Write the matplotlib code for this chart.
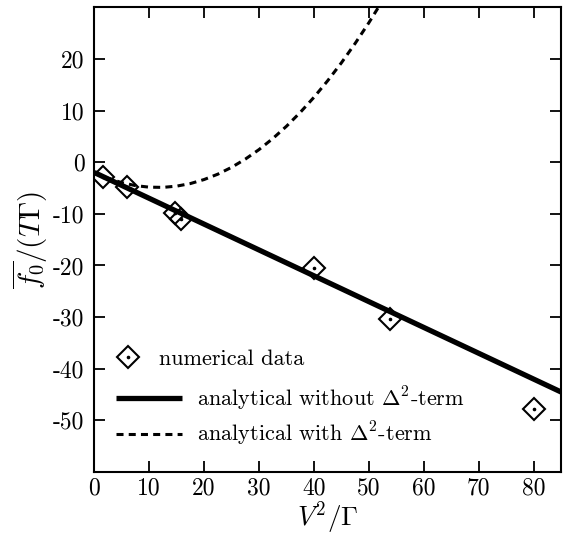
import matplotlib
matplotlib.use("Agg")
import matplotlib.pyplot as plt

plt.rcParams['font.family'] = 'serif'
plt.rcParams['font.serif'] = ['cmr10']
plt.rcParams['mathtext.fontset'] = 'cm'
plt.rcParams['axes.unicode_minus'] = False

# numerical data
num_x = [1.6, 5.9, 14.7, 15.7, 40.0, 53.8, 80.0]
num_y = [-2.9, -4.9, -9.8, -11.1, -20.4, -30.3, -47.7]

# analytical without Delta^2-term (straight line)
lin_x = [0, 85]
lin_y = [-2.0, -44.5]

# analytical with Delta^2-term
dash_x = [0, 2.5, 5, 7.5, 10, 12.5, 15, 17.5, 20, 22.5, 25, 27.5, 30,
          32.5, 35, 37.5, 40, 42.5, 45, 47.5, 50, 52.5]
dash_y = [-2.0, -3.12, -3.96, -4.54, -4.84, -4.88, -4.64, -4.14, -3.36,
          -2.32, -1.0, 0.59, 2.44, 4.57, 6.96, 9.63, 12.56, 15.77, 19.24,
          22.99, 27.0, 31.29]

fig = plt.figure(figsize=(5.63, 5.37), dpi=100)
ax = fig.add_axes([0.1675, 0.121, 0.829, 0.8655])

dl, = ax.plot(dash_x, dash_y, color='black', lw=2.2, linestyle=(0, (2.3, 1.7)))
sl, = ax.plot(lin_x, lin_y, color='black', lw=3.8, solid_capstyle='butt')
dm, = ax.plot(num_x, num_y, linestyle='none', marker='D', ms=11.5,
              mfc='none', mec='black', mew=1.5)
dt, = ax.plot(num_x, num_y, linestyle='none', marker='o', ms=1.6,
              mfc='black', mec='black')

ax.set_xlim(0, 85)
ax.set_ylim(-60, 30)
ax.set_xticks(range(0, 81, 10))
ax.set_yticks(range(-50, 21, 10))
ax.tick_params(direction='in', length=8, width=1.3, top=True, right=True,
               labelsize=17, pad=7)
ax.tick_params(axis='x', pad=4)
for s in ax.spines.values():
    s.set_linewidth(1.5)

ax.set_xlabel(r'$V^2/\Gamma$', fontsize=19.5, labelpad=0)
ax.set_ylabel(r'$\overline{f_0}/(T\Gamma)$', fontsize=21, labelpad=2)

leg1 = ax.legend([(dm, dt)], ['numerical data'],
                 loc='center left', bbox_to_anchor=(0.0465, 0.243),
                 frameon=False, fontsize=16, handlelength=1.08,
                 handletextpad=0.86, borderpad=0, borderaxespad=0)
ax.add_artist(leg1)
ax.legend([sl, dl],
          [r'analytical without $\Delta^2$-term',
           r'analytical with $\Delta^2$-term'],
          loc='center left', bbox_to_anchor=(0.0465, 0.120), frameon=False,
          fontsize=16, handlelength=2.97, handletextpad=0.68,
          labelspacing=0.33, borderpad=0, borderaxespad=0)

fig.savefig('out.png', dpi=100)
